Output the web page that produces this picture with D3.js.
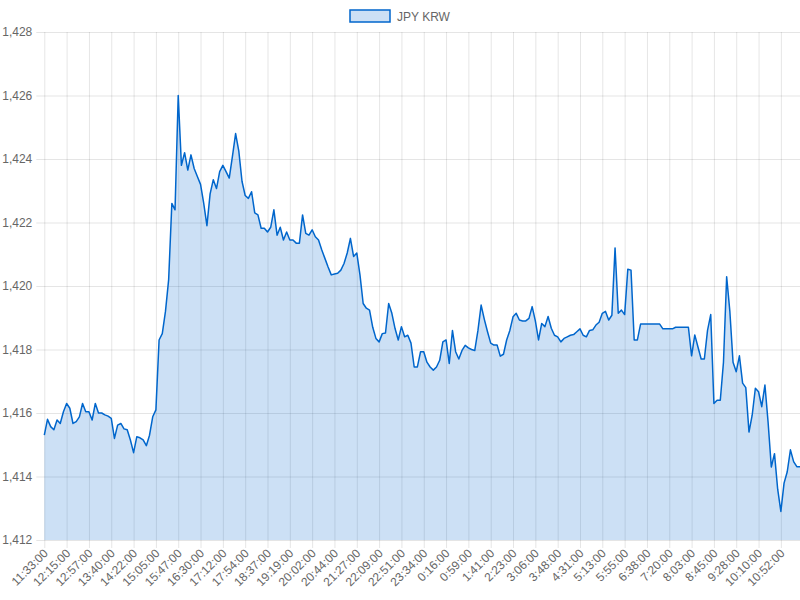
<!DOCTYPE html>
<html>
<head>
<meta charset="utf-8">
<script src="https://cdn.jsdelivr.net/npm/d3@7"></script>
<style>
  body { margin: 0; background: #fff; }
  text { font-family: "Liberation Sans", Arial, sans-serif; font-size: 12px; fill: #666; }
</style>
</head>
<body>
<div id="chart"></div>
<script>
// JPY/KRW rate, one reading every 6 minutes from 11:33:00
const seriesName = "JPY KRW";
const minutesPerSample = 6;
const rates = [
  1415.3, 1415.8, 1415.57, 1415.47, 1415.78, 1415.67, 1416.04, 1416.3, 1416.15, 1415.67,
  1415.73, 1415.88, 1416.3, 1416.04, 1416.04, 1415.78, 1416.3, 1416.0, 1416.0, 1415.94,
  1415.9, 1415.83, 1415.2, 1415.62, 1415.67, 1415.5, 1415.47, 1415.15, 1414.75, 1415.25,
  1415.22, 1415.15, 1414.97, 1415.3, 1415.88, 1416.1, 1418.3, 1418.5, 1419.2, 1420.2,
  1422.6, 1422.4, 1426.0, 1423.8, 1424.2, 1423.65, 1424.13, 1423.7, 1423.45, 1423.2,
  1422.6, 1421.9, 1422.9, 1423.35, 1423.07, 1423.6, 1423.8, 1423.6, 1423.4, 1424.08,
  1424.8, 1424.25, 1423.3, 1422.85, 1422.76, 1422.97, 1422.3, 1422.24, 1421.82, 1421.82,
  1421.7, 1421.85, 1422.4, 1421.6, 1421.85, 1421.45, 1421.7, 1421.45, 1421.45, 1421.35,
  1421.35, 1422.24, 1421.66, 1421.6, 1421.77, 1421.55, 1421.45, 1421.14, 1420.87, 1420.6,
  1420.35, 1420.38, 1420.4, 1420.5, 1420.71, 1421.04, 1421.5, 1420.93, 1421.04, 1420.35,
  1419.45, 1419.3, 1419.24, 1418.7, 1418.35, 1418.24, 1418.5, 1418.52, 1419.45, 1419.14,
  1418.66, 1418.3, 1418.72, 1418.4, 1418.45, 1418.2, 1417.45, 1417.45, 1417.93, 1417.93,
  1417.6, 1417.45, 1417.35, 1417.45, 1417.66, 1418.24, 1418.3, 1417.56, 1418.6, 1417.93,
  1417.7, 1417.97, 1418.13, 1418.05, 1418.0, 1417.97, 1418.6, 1419.4, 1418.95, 1418.56,
  1418.2, 1418.14, 1418.14, 1417.79, 1417.85, 1418.3, 1418.6, 1419.03, 1419.14, 1418.93,
  1418.9, 1418.9, 1418.98, 1419.35, 1418.9, 1418.3, 1418.82, 1418.72, 1419.04, 1418.67,
  1418.45, 1418.4, 1418.24, 1418.35, 1418.4, 1418.45, 1418.47, 1418.56, 1418.65, 1418.45,
  1418.4, 1418.6, 1418.62, 1418.77, 1418.86, 1419.14, 1419.2, 1418.93, 1419.08, 1421.2,
  1419.14, 1419.24, 1419.1, 1420.53, 1420.5, 1418.3, 1418.3, 1418.8, 1418.8, 1418.8,
  1418.8, 1418.8, 1418.8, 1418.8, 1418.65, 1418.65, 1418.65, 1418.65, 1418.7, 1418.7,
  1418.7, 1418.7, 1418.7, 1417.8, 1418.46, 1418.08, 1417.7, 1417.7, 1418.6, 1419.1,
  1416.3, 1416.4, 1416.4, 1417.6, 1420.29, 1419.2, 1417.6, 1417.3, 1417.8, 1416.94,
  1416.8, 1415.4, 1415.93, 1416.78, 1416.67, 1416.2, 1416.88, 1415.7, 1414.3, 1414.72,
  1413.6, 1412.9, 1413.79, 1414.15, 1414.84, 1414.47, 1414.31, 1414.31
];

// shown time labels, one every 42 minutes of data
const tickEvery = 42;
const tickLabels = [
  "11:33:00", "12:15:00", "12:57:00", "13:40:00", "14:22:00", "15:05:00", "15:47:00",
  "16:30:00", "17:12:00", "17:54:00", "18:37:00", "19:19:00", "20:02:00", "20:44:00",
  "21:27:00", "22:09:00", "22:51:00", "23:34:00", "0:16:00", "0:59:00", "1:41:00",
  "2:23:00", "3:06:00", "3:48:00", "4:31:00", "5:13:00", "5:55:00", "6:38:00",
  "7:20:00", "8:03:00", "8:45:00", "9:28:00", "10:10:00", "10:52:00"
];
const yTicks = [1412, 1414, 1416, 1418, 1420, 1422, 1424, 1426, 1428];

const lineColor = "rgb(0, 102, 204)";
const fillColor = "rgba(0, 102, 204, 0.2)";
const gridColor = "rgba(0, 0, 0, 0.1)";

const W = 800, H = 600;
const margin = {top: 32, right: 0, bottom: 60, left: 44.3};
const width = W - margin.left - margin.right,
      height = H - margin.top - margin.bottom;

const svg = d3.select("#chart").append("svg")
    .attr("width", W)
    .attr("height", H);

const g = svg.append("g")
    .attr("transform", `translate(${margin.left},${margin.top})`);

const data = rates.map((v, i) => ({t: i * minutesPerSample, v: v}));

const x = d3.scaleLinear()
    .domain([0, (rates.length - 1) * minutesPerSample])
    .range([0, width]);

const y = d3.scaleLinear()
    .domain([d3.min(yTicks), d3.max(yTicks)])
    .range([height, 0]);

const tickPos = tickLabels.map((d, i) => i * tickEvery);

// y grid + tick marks
const yAxis = g.append("g")
    .call(d3.axisLeft(y).tickValues(yTicks).tickSize(-width - 8).tickPadding(4)
      .tickFormat(d3.format(",")))
    .attr("transform", "translate(-8,0)");
yAxis.select(".domain").remove();
yAxis.selectAll(".tick line").attr("stroke", gridColor).attr("x1", 0);
yAxis.selectAll(".tick text").attr("fill", "#666").attr("font-size", 12)
    .attr("font-family", "Liberation Sans, Arial, sans-serif");

// x grid + rotated labels
const xAxis = g.append("g")
    .attr("transform", `translate(0,${height})`)
    .call(d3.axisBottom(x).tickValues(tickPos).tickSize(8)
      .tickFormat((d, i) => tickLabels[i]));
xAxis.select(".domain").remove();
xAxis.selectAll(".tick line")
    .attr("stroke", gridColor)
    .attr("y1", -height)
    .attr("y2", 8);
xAxis.selectAll(".tick text")
    .attr("fill", "#666").attr("font-size", 12)
    .attr("font-family", "Liberation Sans, Arial, sans-serif")
    .attr("text-anchor", "end")
    .attr("dy", null)
    .attr("y", null)
    .attr("transform", "translate(4,14) rotate(-45)");

// area + line
g.append("path")
    .datum(data)
    .attr("fill", fillColor)
    .attr("d", d3.area().x(d => x(d.t)).y0(height).y1(d => y(d.v)));

g.append("path")
    .datum(data)
    .attr("fill", "none")
    .attr("stroke", lineColor)
    .attr("stroke-width", 1.5)
    .attr("stroke-linejoin", "round")
    .attr("d", d3.line().x(d => x(d.t)).y(d => y(d.v)));

// legend
const legend = svg.append("g").attr("transform", "translate(350,10)");
legend.append("rect")
    .attr("width", 40).attr("height", 12)
    .attr("fill", fillColor)
    .attr("stroke", lineColor)
    .attr("stroke-width", 1.5);
legend.append("text")
    .attr("x", 47).attr("y", 10.5)
    .text(seriesName);
</script>
</body>
</html>
